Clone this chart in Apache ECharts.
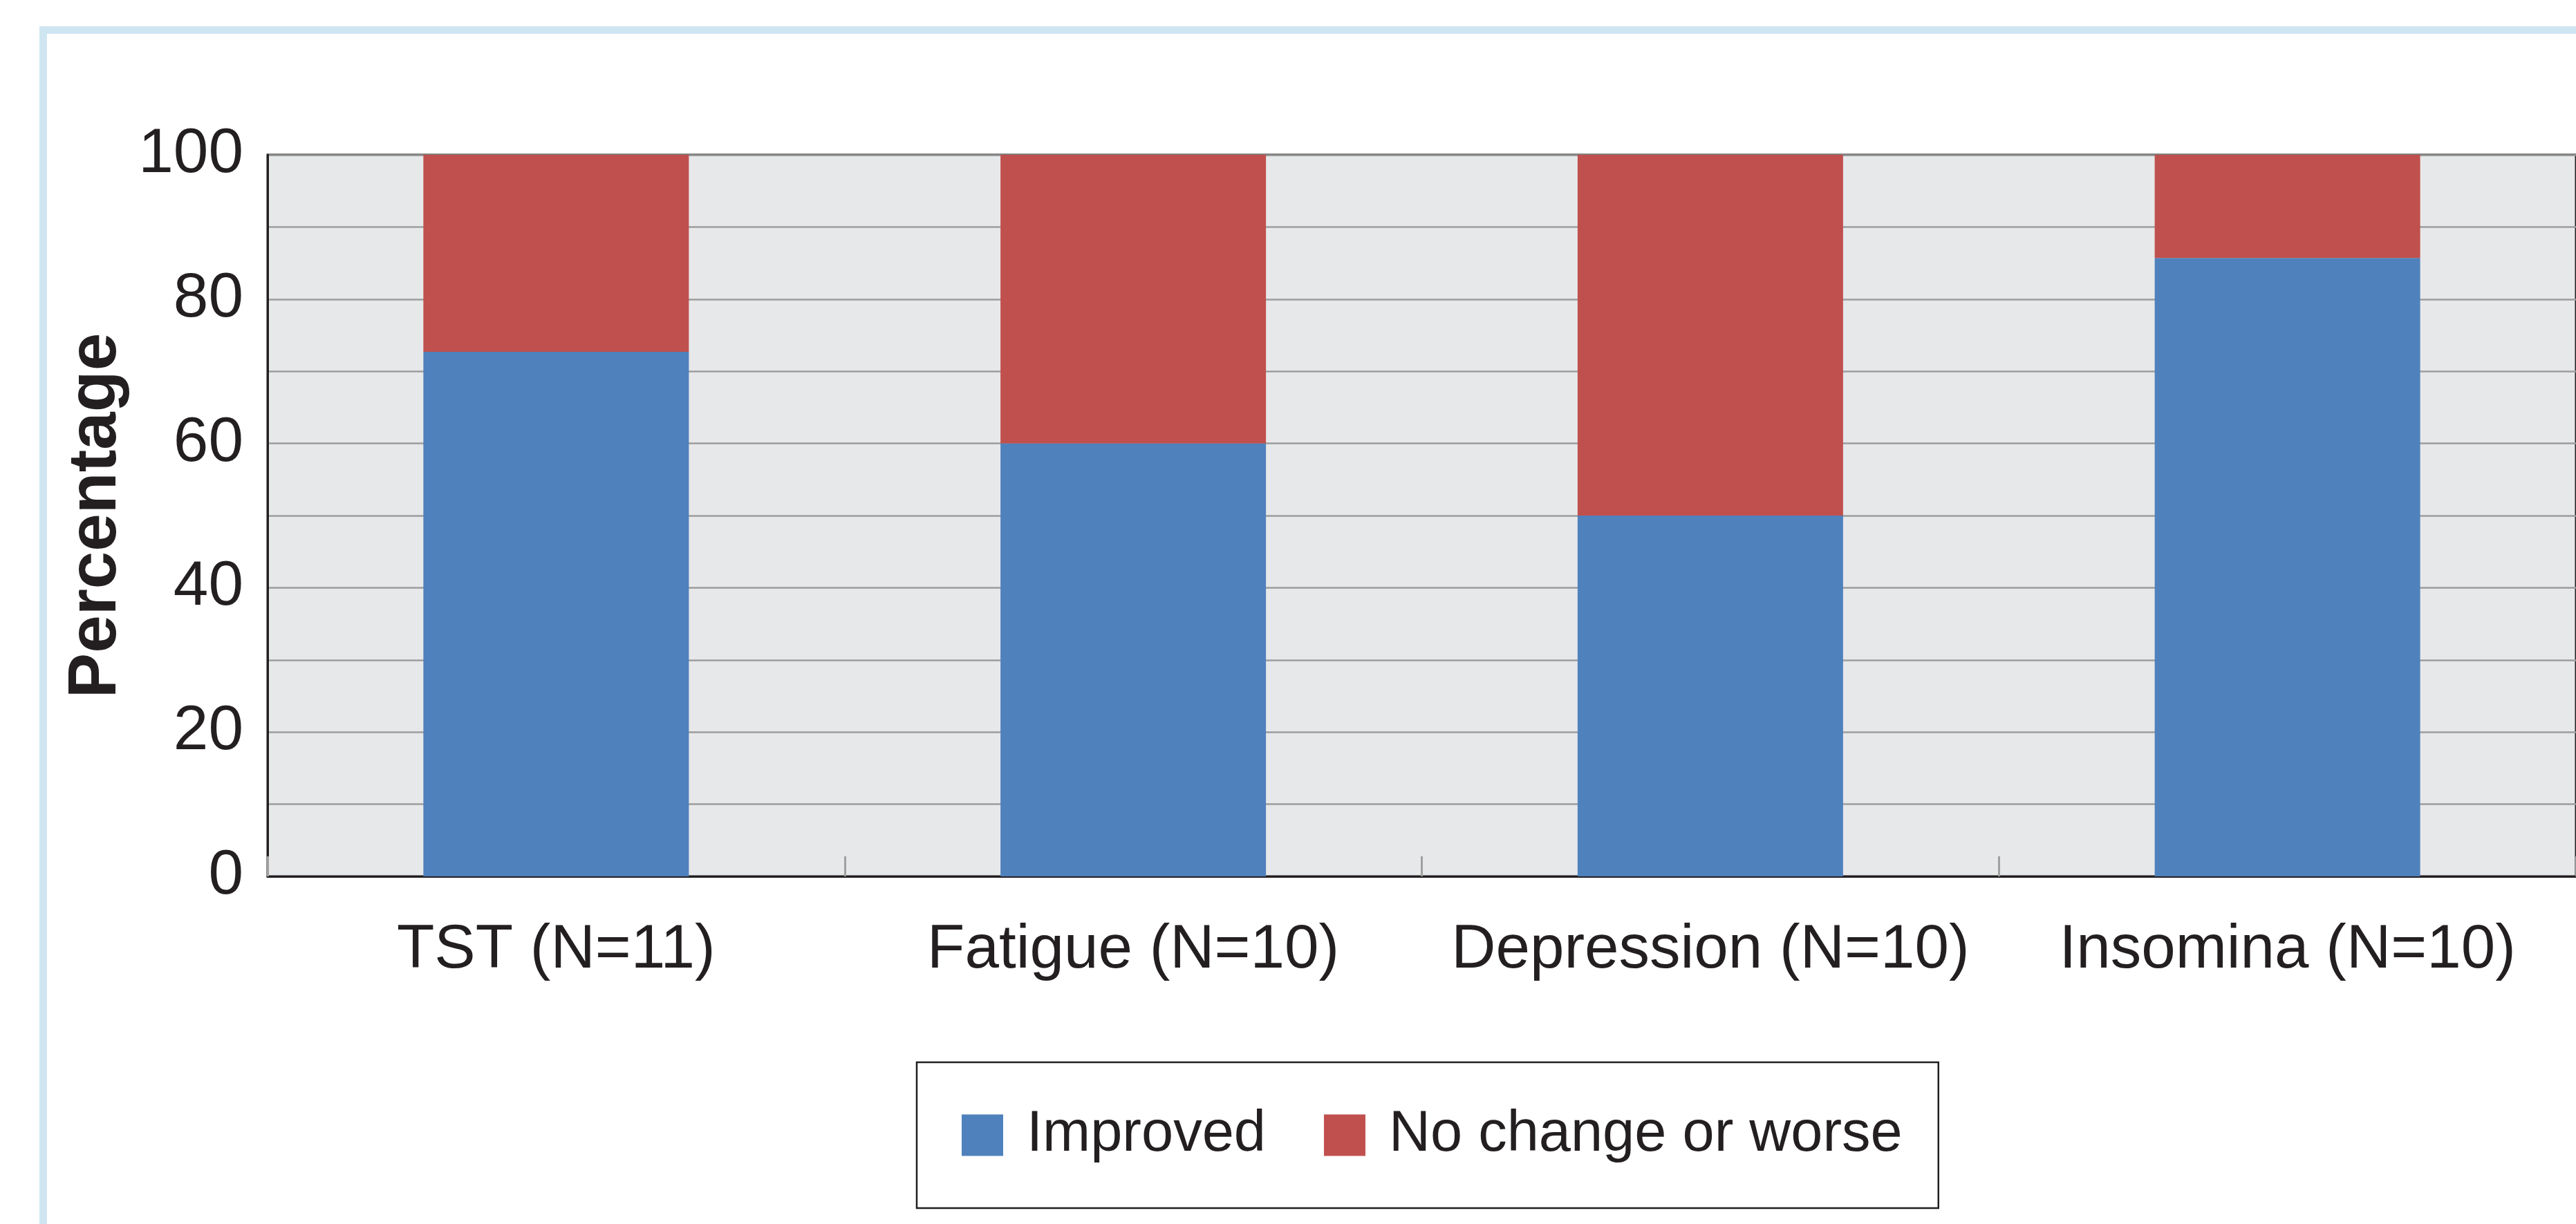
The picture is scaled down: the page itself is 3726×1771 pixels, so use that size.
<!DOCTYPE html>
<html>
<head>
<meta charset="utf-8">
<script src="https://cdn.jsdelivr.net/npm/echarts@6/dist/echarts.min.js"></script>
<style>
html,body{margin:0;padding:0;background:#fff;}
#c{width:3726px;height:1771px;}
</style>
</head>
<body>
<div id="c"></div>
<script>
const categories = ['TST (N=11)', 'Fatigue (N=10)', 'Depression (N=10)', 'Insomina (N=10)'];
const improved = [72.7, 60, 50, 85.7];
const noChange = [27.3, 40, 50, 14.3];
const seriesNames = ['Improved', 'No change or worse'];
const yMin = 0, yMax = 100, yStep = 20;

const chart = echarts.init(document.getElementById('c'), null, {renderer: 'canvas'});
const textColor = '#231f20';
const option = {
  backgroundColor: '#ffffff',
  animation: false,
  graphic: [{
    type: 'rect',
    silent: true,
    z: -10,
    shape: {x: 62.5, y: 43.5, width: 4000, height: 2000},
    style: {fill: 'none', stroke: '#cfe5f2', lineWidth: 11}
  }],
  grid: {
    left: 387, top: 224, width: 3347, height: 1044,
    show: true, backgroundColor: '#e7e8ea', borderColor: textColor, borderWidth: 3
  },
  legend: {
    data: seriesNames,
    left: 1326, top: 1537,
    orient: 'horizontal',
    padding: [64, 52, 64, 65],
    itemWidth: 60, itemHeight: 60, itemGap: 84,
    icon: 'rect',
    borderColor: textColor, borderWidth: 2.5,
    textStyle: {fontFamily: 'Liberation Sans', fontSize: 83, color: textColor, padding: [0, 0, 0, 29]}
  },
  xAxis: {
    type: 'category',
    data: categories,
    axisLine: {show: true, lineStyle: {color: textColor, width: 3}},
    axisTick: {show: true, inside: true, length: 29, alignWithLabel: false, lineStyle: {color: '#a0a0a0', width: 3}},
    axisLabel: {fontFamily: 'Liberation Sans', fontSize: 89, color: textColor, margin: 63, interval: 0},
    splitLine: {show: false}
  },
  yAxis: {
    type: 'value',
    min: yMin, max: yMax, interval: yStep,
    name: 'Percentage',
    nameLocation: 'middle',
    nameGap: 178,
    nameRotate: 90,
    nameTextStyle: {fontFamily: 'Liberation Sans', fontWeight: 'bold', fontSize: 98, color: textColor},
    axisLine: {show: true, lineStyle: {color: textColor, width: 3}},
    axisTick: {show: false},
    axisLabel: {fontFamily: 'Liberation Sans', fontSize: 91, color: textColor, margin: 35, padding: [22, 0, 0, 0]},
    splitLine: {show: true, lineStyle: {color: '#9d9d9d', width: 2.5}},
    minorTick: {show: false, splitNumber: 2},
    minorSplitLine: {show: true, lineStyle: {color: '#9d9d9d', width: 2.5}}
  },
  series: [
    {name: seriesNames[0], type: 'bar', stack: 'total', data: improved, barWidth: '46%', itemStyle: {color: '#4f81bd'}},
    {name: seriesNames[1], type: 'bar', stack: 'total', data: noChange, barWidth: '46%', itemStyle: {color: '#c0504d'}}
  ]
};
chart.setOption(option);
</script>
</body>
</html>
